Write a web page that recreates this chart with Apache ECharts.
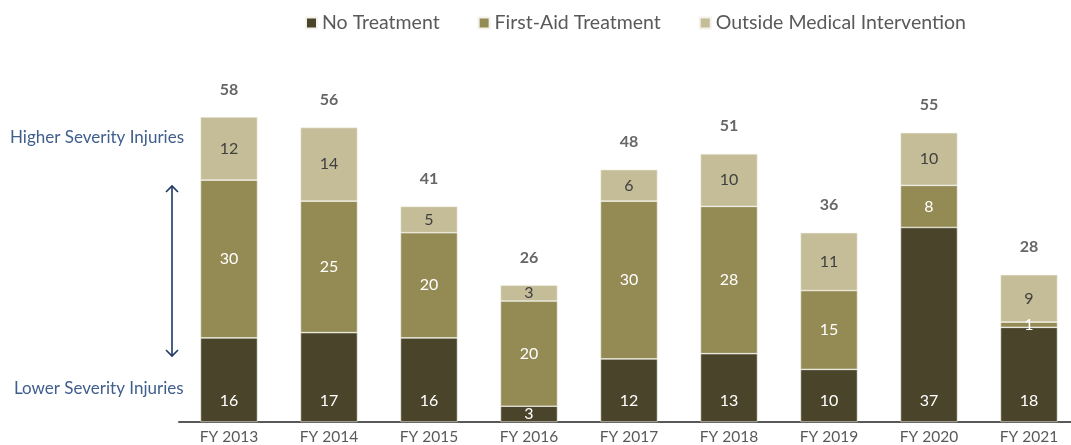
<!DOCTYPE html>
<html>
<head>
<meta charset="utf-8">
<script src="https://cdn.jsdelivr.net/npm/echarts@6/dist/echarts.min.js"></script>
<style>
  html, body { margin: 0; padding: 0; background: #fff; }
  #chart { width: 1071px; height: 445px; }
</style>
</head>
<body>
<div id="chart"></div>
<script>
// Injury counts by fiscal year, split by treatment level
const categories = ['FY 2013', 'FY 2014', 'FY 2015', 'FY 2016', 'FY 2017', 'FY 2018', 'FY 2019', 'FY 2020', 'FY 2021'];
const noTreatment = [16, 17, 16, 3, 12, 13, 10, 37, 18];
const firstAid = [30, 25, 20, 20, 30, 28, 15, 8, 1];
const outsideMedical = [12, 14, 5, 3, 6, 10, 11, 10, 9];
const seriesNames = ['No Treatment', 'First-Aid Treatment', 'Outside Medical Intervention'];
const totals = categories.map((_, i) => noTreatment[i] + firstAid[i] + outsideMedical[i]);

const FONT = 'Lato, "Open Sans", sans-serif';
const colors = ['#4A452A', '#948A54', '#C4BD97'];

const chart = echarts.init(document.getElementById('chart'), null, { renderer: 'canvas' });

const segLabel = (color) => ({
  show: true,
  position: 'inside',
  color: color,
  fontFamily: FONT,
  fontSize: 16
});

// bottom segment labels sit near the base unless the segment is too short
const noTreatmentData = noTreatment.map(v => ({
  value: v,
  label: v >= 6 ? { position: 'insideBottom', distance: 13 } : { position: 'inside' }
}));

const option = {
  animation: false,
  color: colors,
  legend: {
    top: 8,
    left: 300,
    itemWidth: 11,
    itemHeight: 11,
    itemGap: 38,
    icon: 'rect',
    textStyle: { color: '#595959', fontFamily: FONT, fontSize: 19.5 },
    data: seriesNames
  },
  grid: { left: 179, width: 900, top: 106.5, bottom: 23, outerBoundsMode: 'none', containLabel: false },
  xAxis: {
    type: 'category',
    data: categories,
    axisTick: { show: false },
    axisLine: { lineStyle: { color: '#595959', width: 2 } },
    axisLabel: { color: '#595959', fontFamily: FONT, fontSize: 15.5, margin: 7 }
  },
  yAxis: {
    type: 'value',
    min: 0,
    max: 60,
    show: false,
    splitLine: { show: false }
  },
  series: [
    {
      name: seriesNames[0], type: 'bar', stack: 'total', barWidth: 57,
      itemStyle: { borderColor: '#f4f2ea', borderWidth: 0.6 },
      label: segLabel('#ffffff'),
      data: noTreatmentData
    },
    {
      name: seriesNames[1], type: 'bar', stack: 'total', barWidth: 57,
      itemStyle: { borderColor: '#f4f2ea', borderWidth: 0.6 },
      label: segLabel('#ffffff'),
      data: firstAid
    },
    {
      name: seriesNames[2], type: 'bar', stack: 'total', barWidth: 57,
      itemStyle: { borderColor: '#f4f2ea', borderWidth: 0.6 },
      label: segLabel('#404040'),
      data: outsideMedical
    },
    {
      name: 'Total', type: 'scatter',
      symbolSize: 1,
      itemStyle: { color: 'rgba(0,0,0,0)' },
      label: {
        show: true, position: 'top', distance: 19,
        color: '#404040', fontFamily: FONT, fontSize: 16, fontWeight: 'bold'
      },
      data: totals,
      z: 5
    }
  ],
  graphic: [
    {
      type: 'text', left: 10, top: 129,
      style: { text: 'Higher Severity Injuries', fill: '#3F5E8C', font: '17px ' + FONT }
    },
    {
      type: 'text', left: 14, top: 380,
      style: { text: 'Lower Severity Injuries', fill: '#3F5E8C', font: '17px ' + FONT }
    },
    {
      type: 'group',
      children: [
        { type: 'line', shape: { x1: 172, y1: 186, x2: 172, y2: 356 }, style: { stroke: '#1F3864', lineWidth: 1.6 } },
        { type: 'polyline', shape: { points: [[166, 192], [172, 186], [178, 192]] }, style: { stroke: '#1F3864', lineWidth: 1.6, fill: null } },
        { type: 'polyline', shape: { points: [[166, 350], [172, 356], [178, 350]] }, style: { stroke: '#1F3864', lineWidth: 1.6, fill: null } }
      ]
    }
  ]
};

chart.setOption(option);
</script>
</body>
</html>
